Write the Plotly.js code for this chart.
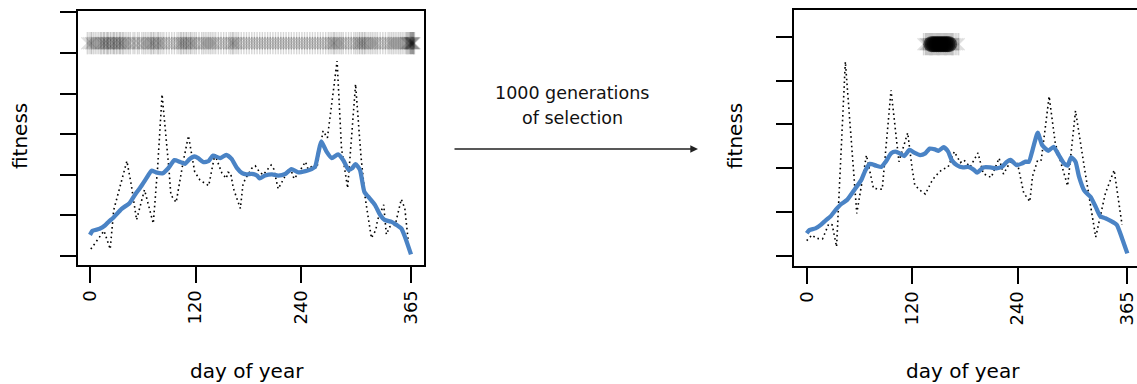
<!DOCTYPE html>
<html>
<head>
<meta charset="utf-8">
<script src="https://cdn.plot.ly/plotly-3.0.1.min.js"></script>
<style>html,body{margin:0;padding:0;background:#fff;}#chart{width:1137px;height:384px;}</style>
</head>
<body>
<div id="chart"></div>
<script>
// ---------- data: before selection (left panel) ----------
const meanDaysL = [0,3,11,17,22,26,36,45,51,58,64,70,75,83,89,96,102,108,113,119,123,129,135,140,148,155,161,167,173,178,184,190,193,199,207,214,222,229,237,245,252,256,260,263,269,275,282,288,294,298,302,307,312,318,324,330,335,343,349,354,358,365];
const meanFitL  = [0.52,0.62,0.67,0.75,0.86,0.93,1.16,1.30,1.50,1.71,1.91,2.10,2.06,2.04,2.16,2.36,2.32,2.27,2.38,2.45,2.41,2.31,2.34,2.47,2.41,2.49,2.39,2.17,2.04,2.01,2.02,1.98,1.91,1.98,2.01,1.98,2.02,2.14,2.06,2.09,2.14,2.20,2.57,2.82,2.57,2.41,2.50,2.36,2.12,2.16,2.26,2.12,1.58,1.42,1.26,1.01,0.89,0.84,0.76,0.68,0.48,0.04];
const rawDaysL = [1,10,16,23,27,42,47,53,62,72,77,82,86,90,92,98,106,112,119,125,135,142,150,155,157,160,163,167,171,174,177,184,188,193,197,206,209,214,221,224,229,232,237,245,248,252,258,265,270,281,286,293,302,308,313,320,325,327,334,337,341,347,354,358,362];
const rawFitL  = [0.17,0.45,0.62,0.17,1.13,2.34,1.75,0.89,1.63,0.80,2.20,3.98,3.10,2.09,1.50,1.32,2.32,2.96,2.08,1.87,1.73,2.50,2.04,1.91,2.06,2.04,1.67,1.42,1.17,1.77,1.91,2.16,2.22,2.06,2.00,2.24,2.14,1.65,1.93,2.12,2.09,1.90,2.04,2.32,2.14,2.20,2.16,3.08,2.91,4.80,2.65,1.67,4.23,2.49,1.42,0.44,0.64,0.89,1.26,0.53,0.72,0.76,1.40,1.17,0.35];
const popDaysL = [-3,-1,1,2,4,6,8,10,12,13,15,16,17,19,20,21,23,24,26,27,28,30,31,33,34,35,37,38,40,42,44,46,49,51,54,56,59,61,63,65,67,69,70,72,73,75,77,78,80,82,84,87,90,93,96,99,101,103,104,106,107,109,110,112,114,115,117,119,121,124,127,129,131,133,135,137,139,141,143,146,149,152,155,158,160,162,163,165,167,169,172,175,178,181,184,187,190,193,196,199,202,205,208,211,214,217,220,223,226,229,232,235,238,241,244,247,250,253,256,259,262,265,268,271,273,275,277,278,280,282,284,286,288,291,294,297,300,302,304,306,307,309,310,312,313,315,317,319,321,323,325,327,330,333,336,339,341,343,345,347,349,351,353,355,357,359,360,361,362,363,364,364,365,365,366,366,367,367,368,368,369];
const popFitL = 5.24;

// ---------- data: after 1000 generations (right panel) ----------
const meanDaysR = [0,3,10,16,22,27,33,39,46,54,62,67,72,79,85,90,96,101,106,111,117,123,129,135,140,146,150,156,161,165,171,178,184,190,194,201,209,216,222,228,232,239,245,249,253,257,263,268,275,281,287,293,297,301,306,310,316,323,329,334,340,346,353,359,365];
const meanFitR  = [0.52,0.59,0.63,0.71,0.82,0.90,1.05,1.18,1.28,1.50,1.73,1.96,2.10,2.06,2.03,2.15,2.34,2.38,2.34,2.28,2.42,2.35,2.30,2.34,2.45,2.43,2.40,2.48,2.38,2.19,2.07,2.02,2.03,1.97,1.90,2.02,2.02,2.00,2.03,2.15,2.19,2.07,2.11,2.15,2.15,2.41,2.81,2.53,2.40,2.49,2.30,2.11,2.06,2.25,2.15,1.81,1.49,1.35,1.12,0.91,0.86,0.80,0.71,0.40,0.06];
const rawDaysR = [0,6,11,18,22,25,29,31,34,44,57,68,76,86,96,105,115,120,123,129,135,142,146,154,161,168,175,179,186,195,201,210,219,224,233,240,247,254,257,263,267,276,283,297,306,316,329,340,350,359];
const rawFitR  = [0.35,0.48,0.40,0.39,0.58,0.73,0.71,0.53,0.21,4.43,0.97,2.30,1.54,1.52,3.78,2.15,2.81,2.00,1.62,1.50,1.41,1.69,1.81,1.97,2.03,2.38,2.13,2.19,2.03,2.35,1.88,1.79,2.23,1.87,2.19,2.11,1.44,1.24,1.81,2.19,2.19,3.64,2.57,1.60,3.31,2.03,0.43,1.43,1.96,0.71];
const popDaysR = [133,135,136,137,138,139,140,141,142,143,144,145,146,147,148,149,150,151,152,153,154,155,156,157,158,159,160,161,162,163,164,165,166,167,169,171,173];
const popCoreR = [142,144,146,148,150,152,154,156,158,160,162];
const popFitR = 4.83;

// ---------- labels ----------
const xTickVals = [0,120,240,365];
const xTickText = ['0','120','240','365'];
const yTicksL = [0,1,2,3,4,5,6];
const yTicksR = [0,1,2,3,4,5];
const xTitle = 'day of year';
const yTitle = 'fitness';
const midText1 = '1000 generations';
const midText2 = 'of selection';

const BLUE = '#4A83C5';
const FONT = 'DejaVu Sans, sans-serif';

function strokes(days, fit, xa, ya, symbol, size, alpha, width) {
  const c = 'rgba(0,0,0,' + alpha + ')';
  return {x: days, y: days.map(() => fit), xaxis: xa, yaxis: ya, type: 'scatter', mode: 'markers',
    marker: {symbol: symbol, size: size, color: c, line: {width: width, color: c}}, hoverinfo: 'skip'};
}

function panelTraces(xa, ya, popDays, popFit, rawD, rawF, meanD, meanF, core) {
  const tr = [];
  tr.push(strokes(popDays, popFit, xa, ya, 'line-ns-open', 16, 0.16, 1.4));
  tr.push(strokes(popDays, popFit, xa, ya, 'line-ne-open', 12, 0.12, 1.3));
  tr.push(strokes(popDays, popFit, xa, ya, 'line-nw-open', 12, 0.12, 1.3));
  tr.push(strokes(popDays, popFit, xa, ya, 'line-ns-open', 9, 0.10, 1.6));
  if (core) {
    tr.push({x: core, y: core.map(() => popFit), xaxis: xa, yaxis: ya, type: 'scatter', mode: 'markers',
      marker: {symbol: 'circle', size: 16, color: 'rgba(0,0,0,0.55)', line: {width: 0}}, hoverinfo: 'skip'});
  }
  tr.push({x: rawD, y: rawF, xaxis: xa, yaxis: ya, type: 'scatter', mode: 'lines',
    line: {color: '#000', width: 1.6, dash: '1.6px,3.2px'}, hoverinfo: 'skip'});
  tr.push({x: meanD, y: meanF, xaxis: xa, yaxis: ya, type: 'scatter', mode: 'lines',
    line: {color: BLUE, width: 4.3, shape: 'spline', smoothing: 0.5}, hoverinfo: 'skip'});
  return tr;
}

const data = [].concat(
  panelTraces('x', 'y', popDaysL, popFitL, rawDaysL, rawFitL, meanDaysL, meanFitL, null),
  panelTraces('x2', 'y2', popDaysR, popFitR, rawDaysR, rawFitR, meanDaysR, meanFitR, popCoreR)
);

const W = 1137, H = 384;
function xAxis(domain, range, anchor) {
  return {domain: domain, range: range, anchor: anchor, tickmode: 'array', tickvals: xTickVals, ticktext: xTickText,
    tickangle: -90, ticks: 'outside', ticklen: 16, tickwidth: 2, tickcolor: '#000', ticklabelstandoff: 0,
    ticklabeloverflow: 'allow', automargin: false,
    showline: true, mirror: true, linewidth: 2, linecolor: '#000', showgrid: false, zeroline: false,
    tickfont: {family: FONT, size: 18, color: '#000'}, fixedrange: true};
}
function yAxis(domain, range, anchor, vals) {
  return {domain: domain, range: range, anchor: anchor, tickmode: 'array', tickvals: vals, showticklabels: false,
    ticks: 'outside', ticklen: 16, tickwidth: 2, tickcolor: '#000',
    showline: true, mirror: true, linewidth: 2, linecolor: '#000', showgrid: false, zeroline: false, fixedrange: true};
}

const layout = {
  width: W, height: H, margin: {l: 0, r: 0, t: 0, b: 0}, showlegend: false,
  paper_bgcolor: '#fff', plot_bgcolor: '#fff', font: {family: FONT, color: '#000'},
  xaxis: xAxis([78 / W, 424 / W], [-13.6, 379.8], 'y'),
  yaxis: yAxis([(H - 265) / H, (H - 11) / H], [-0.222, 6.032], 'x', yTicksL),
  xaxis2: xAxis([794 / W, 1], [-14.46, 376.0], 'y2'),
  yaxis2: yAxis([(H - 266) / H, (H - 10) / H], [-0.228, 5.609], 'x2', yTicksR),
  annotations: [
    {xref: 'paper', yref: 'paper', x: 20 / W, y: 1 - 136 / H, text: yTitle, textangle: -90, showarrow: false,
      xanchor: 'center', yanchor: 'middle', font: {size: 20, family: FONT}},
    {xref: 'paper', yref: 'paper', x: 735 / W, y: 1 - 136 / H, text: yTitle, textangle: -90, showarrow: false,
      xanchor: 'center', yanchor: 'middle', font: {size: 20, family: FONT}},
    {xref: 'paper', yref: 'paper', x: 247 / W, y: 1 - 371 / H, text: xTitle, showarrow: false,
      xanchor: 'center', yanchor: 'middle', font: {size: 20, family: FONT}},
    {xref: 'paper', yref: 'paper', x: 963 / W, y: 1 - 371 / H, text: xTitle, showarrow: false,
      xanchor: 'center', yanchor: 'middle', font: {size: 20, family: FONT}},
    {xref: 'paper', yref: 'paper', x: 572 / W, y: 1 - 93 / H, text: midText1, showarrow: false,
      xanchor: 'center', yanchor: 'middle', font: {size: 17.5, family: FONT, color: '#111'}},
    {xref: 'paper', yref: 'paper', x: 572 / W, y: 1 - 118 / H, text: midText2, showarrow: false,
      xanchor: 'center', yanchor: 'middle', font: {size: 17.5, family: FONT, color: '#111'}},
    {xref: 'paper', yref: 'paper', x: 698 / W, y: 1 - 149 / H, text: '', showarrow: true,
      axref: 'pixel', ayref: 'pixel', ax: -245, ay: 0, arrowhead: 2, arrowsize: 1.1, arrowwidth: 1.4,
      arrowcolor: '#222', standoff: 0, startstandoff: 0}
  ]
};

Plotly.newPlot('chart', data, layout, {staticPlot: true, displayModeBar: false});
</script>
</body>
</html>
